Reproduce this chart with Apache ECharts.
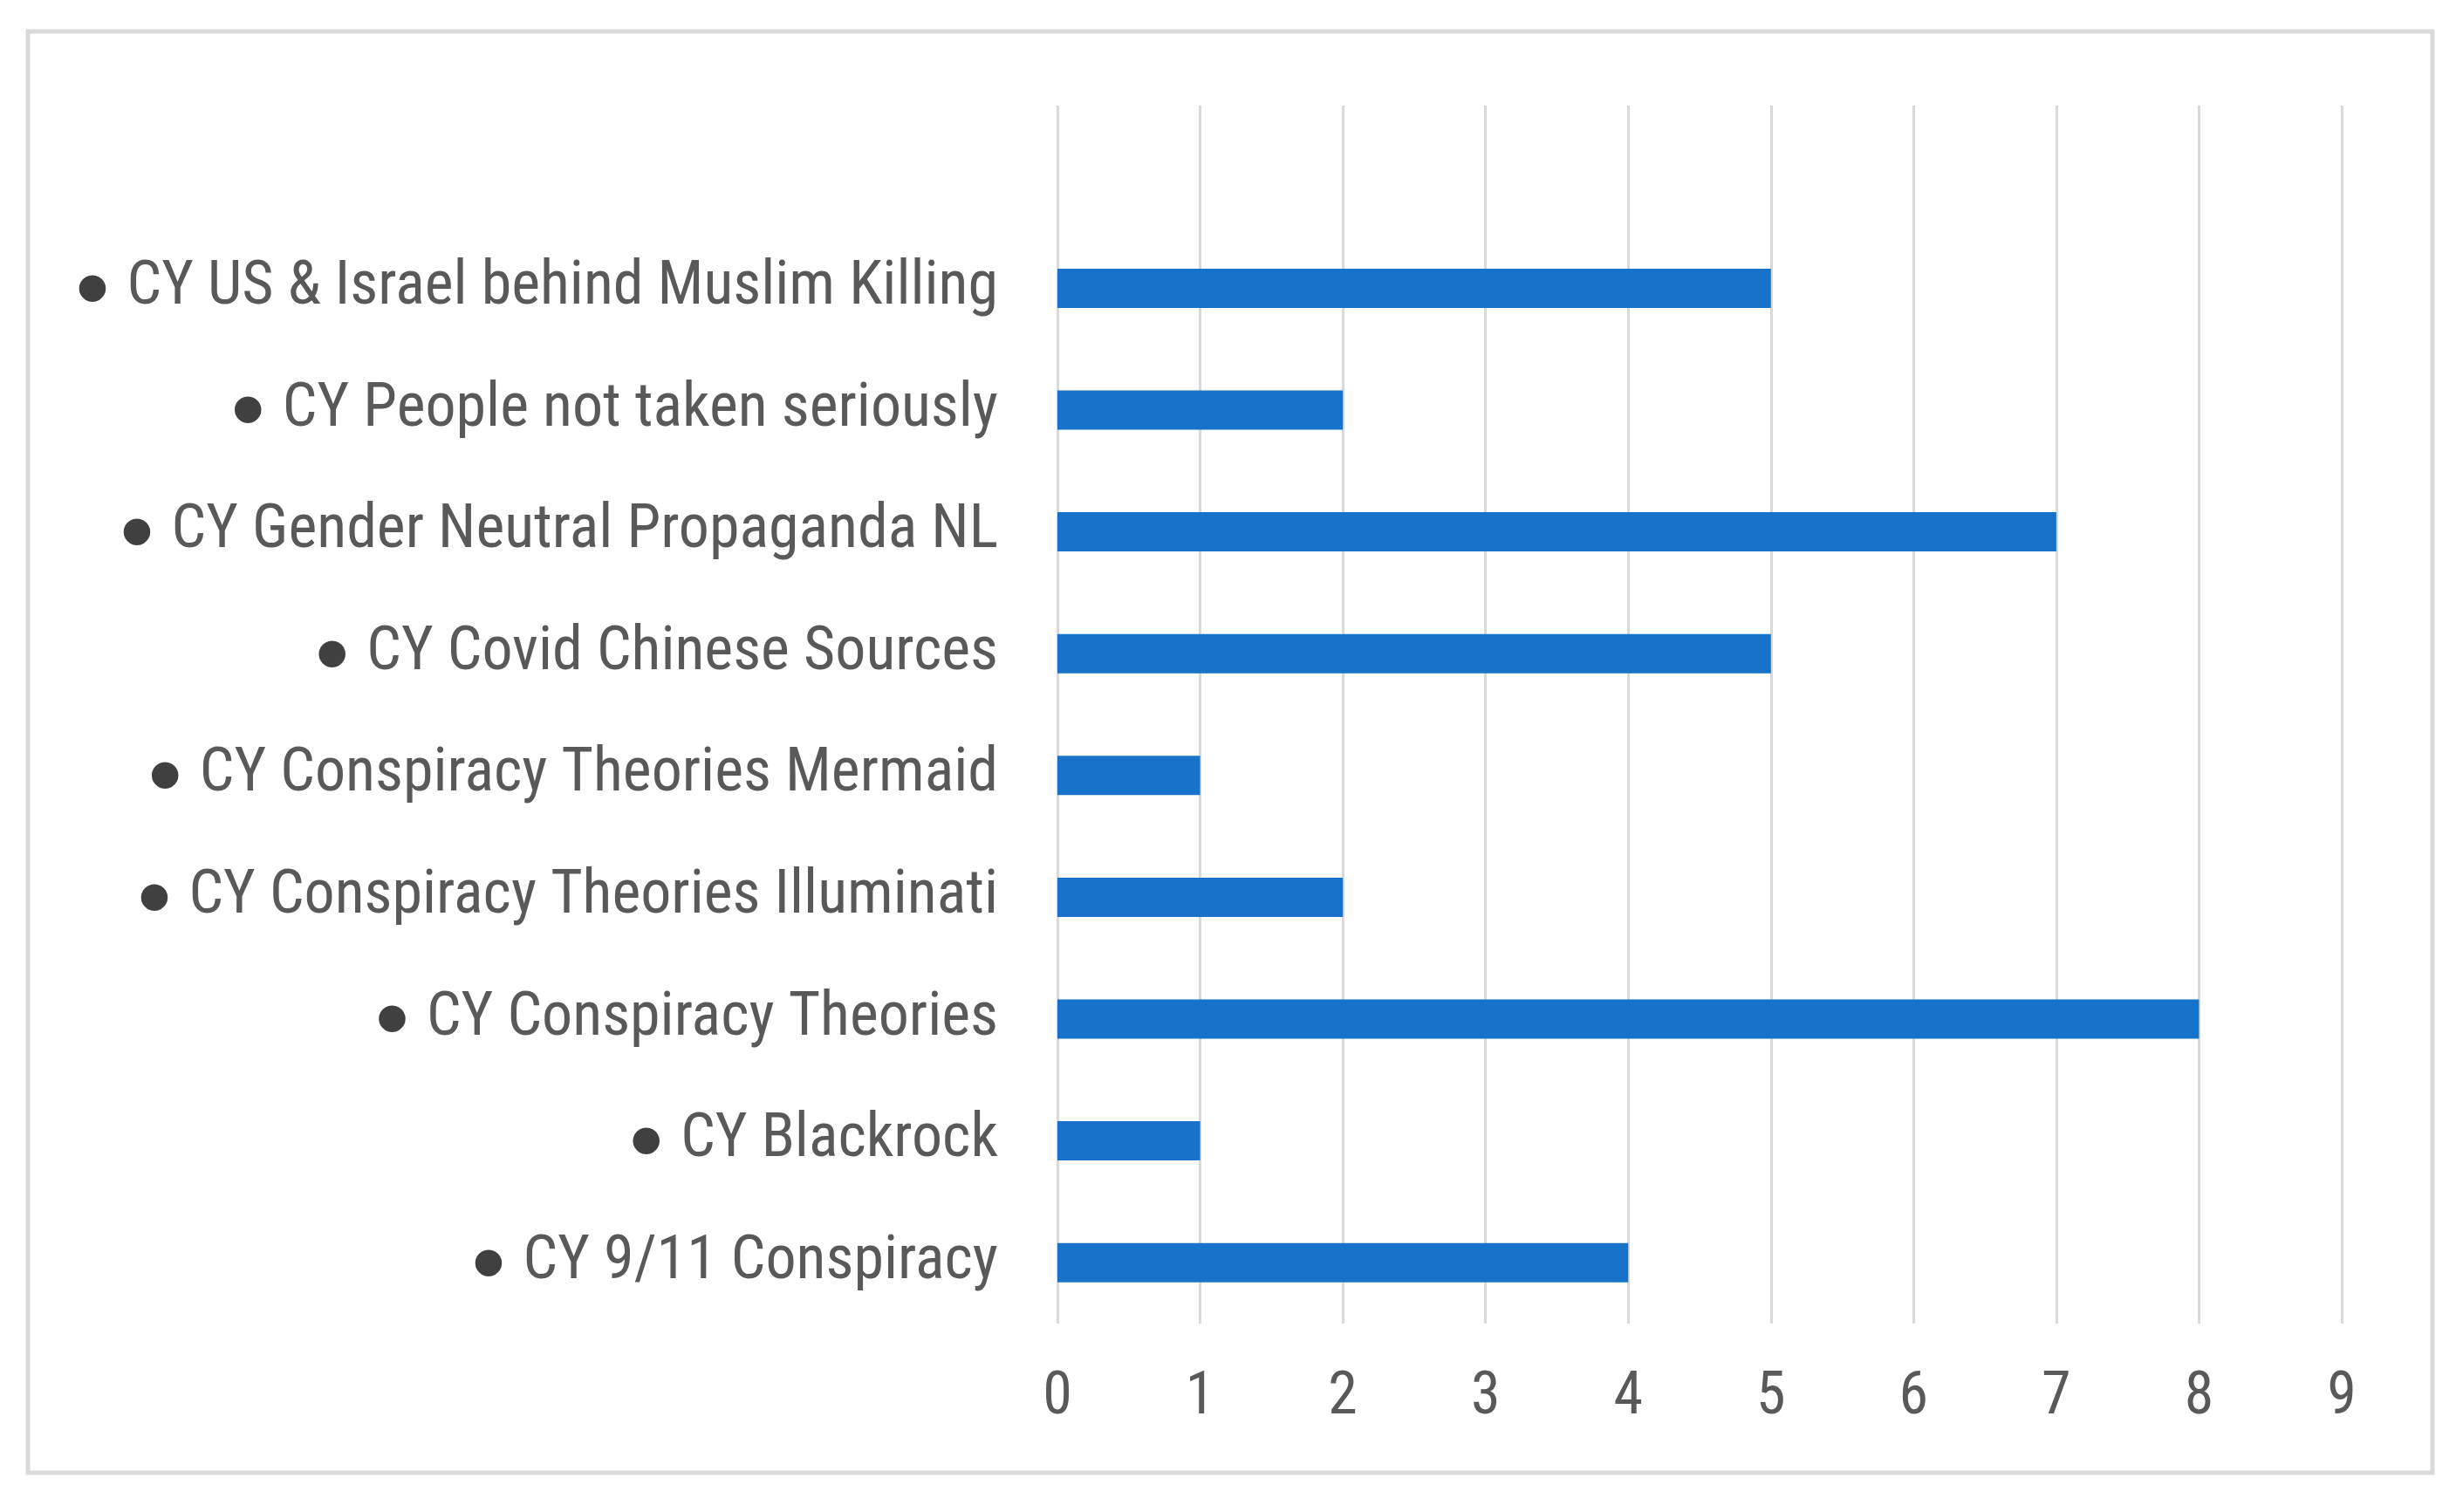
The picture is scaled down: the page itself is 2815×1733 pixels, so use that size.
<!DOCTYPE html>
<html>
<head>
<meta charset="utf-8">
<script src="https://cdn.jsdelivr.net/npm/echarts@6/dist/echarts.min.js"></script>
<style>html,body{margin:0;padding:0;background:#fff;}#c{width:2815px;height:1733px;}</style>
</head>
<body>
<div id="c"></div>
<script>
const categories = ['', 'CY US & Israel behind Muslim Killing', 'CY People not taken seriously', 'CY Gender Neutral Propaganda NL', 'CY Covid Chinese Sources', 'CY Conspiracy Theories Mermaid', 'CY Conspiracy Theories Illuminati', 'CY Conspiracy Theories', 'CY Blackrock', 'CY 9/11 Conspiracy'];
const values = [null, 5, 2, 7, 5, 1, 2, 8, 1, 4];
const xTicks = [0, 1, 2, 3, 4, 5, 6, 7, 8, 9];

const FONT = '"Liberation Sans Narrow", "Roboto Condensed", "Open Sans", sans-serif';
const chart = echarts.init(document.getElementById('c'), null, {renderer: 'canvas'});
chart.setOption({
  backgroundColor: '#ffffff',
  animation: false,
  graphic: [{
    type: 'rect',
    shape: {x: 32, y: 36, width: 2756, height: 1652},
    style: {fill: 'none', stroke: '#d9d9d9', lineWidth: 5},
    silent: true, z: -1
  }],
  grid: {left: 1212, right: 131, top: 121, bottom: 216, containLabel: false},
  xAxis: {
    type: 'value', min: xTicks[0], max: xTicks[xTicks.length - 1], interval: 1,
    axisLine: {show: false}, axisTick: {show: false},
    splitLine: {show: true, lineStyle: {color: '#d9d9d9', width: 3}},
    axisLabel: {color: '#595959', fontSize: 68, fontFamily: FONT, margin: 52}
  },
  yAxis: {
    type: 'category', data: categories, inverse: true,
    axisLine: {show: false}, axisTick: {show: false},
    axisLabel: {
      color: '#595959', fontSize: 70, fontFamily: FONT, margin: 68,
      formatter: v => v ? '{b|●} ' + v : '',
      rich: {b: {fontSize: 40, color: '#404040', fontFamily: 'DejaVu Sans', padding: [0, 6, 0, 0]}}
    }
  },
  series: [{
    type: 'bar', data: values, barWidth: 45,
    itemStyle: {color: '#1773C9'}
  }]
});
</script>
</body>
</html>
